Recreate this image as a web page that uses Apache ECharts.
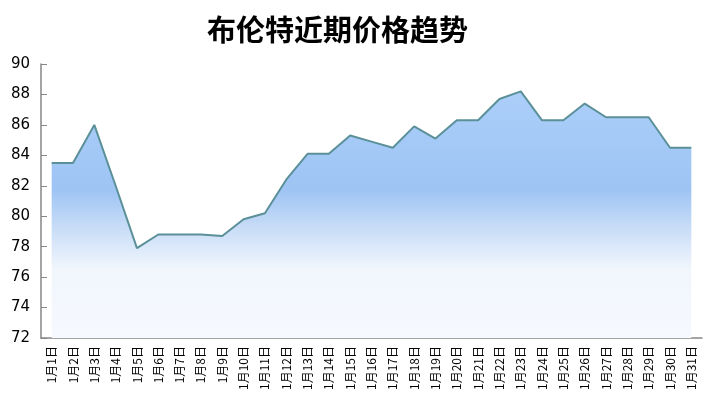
<!DOCTYPE html>
<html><head><meta charset="utf-8">
<script src="https://cdn.jsdelivr.net/npm/echarts@6/dist/echarts.min.js"></script>
<style>html,body{margin:0;padding:0;background:#fff}#c{width:717px;height:408px}</style>
</head><body><div id="c"></div>
<script>
const titleText = '布伦特近期价格趋势';
const categories = ['1月1日','1月2日','1月3日','1月4日','1月5日','1月6日','1月7日','1月8日','1月9日','1月10日','1月11日','1月12日','1月13日','1月14日','1月15日','1月16日','1月17日','1月18日','1月19日','1月20日','1月21日','1月22日','1月23日','1月24日','1月25日','1月26日','1月27日','1月28日','1月29日','1月30日','1月31日'];
const prices = [83.5,83.5,86.0,82.0,77.9,78.8,78.8,78.8,78.7,79.8,80.2,82.4,84.1,84.1,85.3,84.9,84.5,85.9,85.1,86.3,86.3,87.7,88.2,86.3,86.3,87.4,86.5,86.5,86.5,84.5,84.5];
const yMin = 72, yMax = 90, yStep = 2;

const chart = echarts.init(document.getElementById('c'));
chart.setOption({
  animation: false,
  title: {
    text: titleText, left: 202, top: 10, padding: 5,
    textStyle: {fontSize: 29, fontWeight: 'bold', color: '#000', fontFamily: 'Noto Sans CJK SC'}
  },
  grid: {left: 41, right: 15, top: 64, bottom: 70, containLabel: false},
  xAxis: {
    type: 'category', data: categories, boundaryGap: true,
    axisLine: {lineStyle: {color: '#868686', width: 1.5}},
    axisTick: {inside: true, length: 4, lineStyle: {color: '#868686'}},
    axisLabel: {rotate: 90, interval: 0, fontSize: 12, color: '#000', margin: 8, fontFamily: 'Noto Sans CJK SC'}
  },
  yAxis: {
    type: 'value', min: yMin, max: yMax, interval: yStep,
    axisLine: {show: true, lineStyle: {color: '#868686', width: 1.5}},
    axisTick: {show: true, inside: true, length: 6, lineStyle: {color: '#868686'}},
    splitLine: {show: false},
    axisLabel: {fontSize: 15, color: '#000', margin: 11, fontFamily: 'DejaVu Sans'}
  },
  series: [{
    type: 'line', data: prices, symbol: 'none',
    lineStyle: {color: '#5b9099', width: 2},
    areaStyle: {
      color: new echarts.graphic.LinearGradient(0, 0, 0, 1, [
        {offset: 0, color: '#abcff9'},
        {offset: 0.4, color: '#9ec4f4'},
        {offset: 0.55, color: '#c7dcf7'},
        {offset: 0.72, color: '#f1f6fd'},
        {offset: 1, color: '#f6f9fe'}
      ]),
      opacity: 1
    }
  }]
});
</script></body></html>
